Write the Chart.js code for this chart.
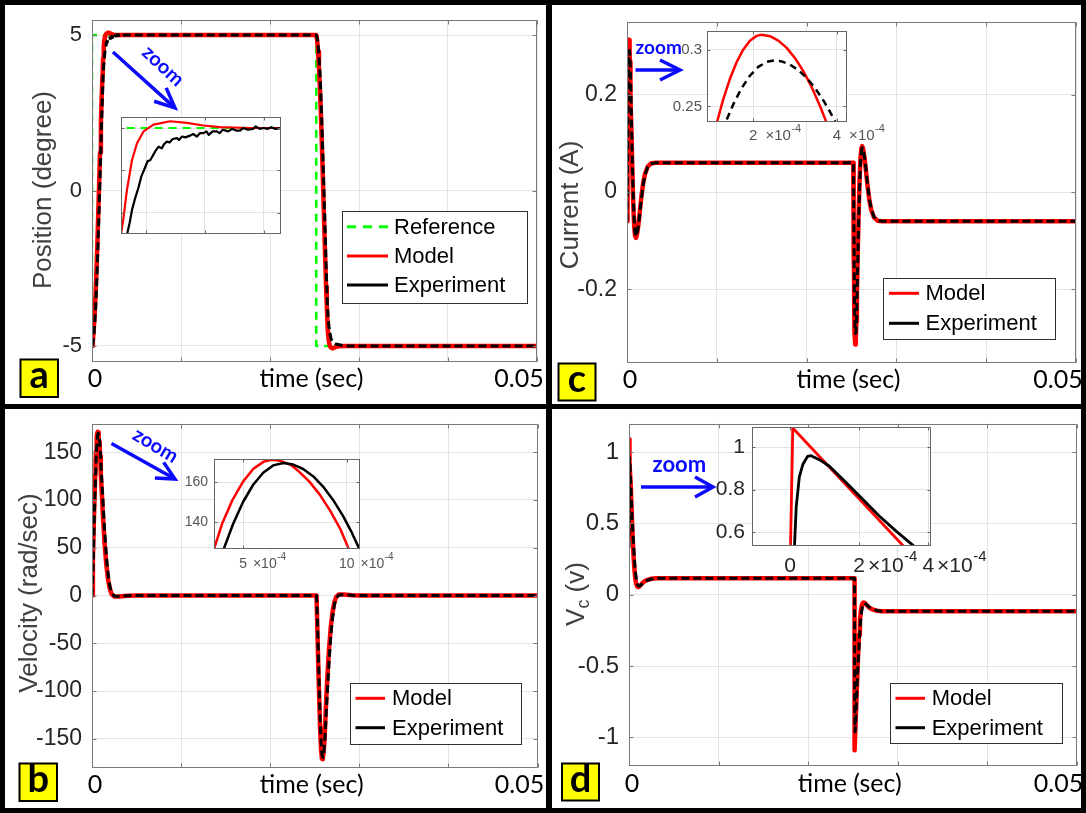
<!DOCTYPE html>
<html>
<head>
<meta charset="utf-8">
<title>Step response: model vs experiment</title>
<script src="https://cdn.jsdelivr.net/npm/chart.js@4.4.1/dist/chart.umd.min.js"></script>
<style>
  body { margin: 0; background: #fff; }
  #figure { position: relative; width: 1086px; height: 813px; background: #fff; overflow: hidden; }
  #figure canvas { position: absolute; left: 0; top: 0; }
  .rule { position: absolute; background: #000; }
</style>
</head>
<body>
<div id="figure">
  <canvas id="posChart" width="1086" height="813"></canvas>
  <canvas id="curChart" width="1086" height="813"></canvas>
  <canvas id="velChart" width="1086" height="813"></canvas>
  <canvas id="vcChart" width="1086" height="813"></canvas>
  <canvas id="posZoom" width="1086" height="813"></canvas>
  <canvas id="curZoom" width="1086" height="813"></canvas>
  <canvas id="velZoom" width="1086" height="813"></canvas>
  <canvas id="vcZoom" width="1086" height="813"></canvas>
  <div class="rule" style="left:0;top:0;width:1086px;height:5px"></div>
  <div class="rule" style="left:0;top:808px;width:1086px;height:5px"></div>
  <div class="rule" style="left:0;top:0;width:5px;height:813px"></div>
  <div class="rule" style="left:1081px;top:0;width:5px;height:813px"></div>
  <div class="rule" style="left:546px;top:0;width:6px;height:813px"></div>
  <div class="rule" style="left:0;top:404px;width:1086px;height:5px"></div>
</div>

<script>
// ---- data : times in ms ----

const timeGrid = [0, 0.01, 0.02, 0.03, 0.04, 0.05];   // s
const timeLabels = [0, 0.05];                          // s

// (a) position, degree
const refTime = [0, 0, 25.2, 25.2, 50];
const refPos = [-5, 5, 5, -5, -5];
const posModelTime = [0, 0.1, 0.2, 0.3, 0.4, 0.5, 0.6, 0.7, 0.8, 0.9,
  1.0, 1.1, 1.18, 1.213, 1.256, 1.32, 1.384, 1.468, 1.595, 1.808,
  2.022, 2.232, 2.445, 2.829, 3.223, 4, 25.2, 25.3, 25.4, 25.5,
  25.6, 25.7, 25.8, 25.9, 26.0, 26.1, 26.2, 26.3, 26.38, 26.46,
  26.52, 26.6, 26.7, 26.8, 27.0, 27.2, 27.4, 27.8, 28.4, 29.5, 50];
const posModel = [-5, -4.82, -4.45, -3.95, -3.35, -2.6, -1.72, -0.76, 0.23, 1.22,
  2.2, 3.12, 3.74, 3.95, 4.27, 4.62, 4.82, 4.96, 5.04, 5.08,
  5.06, 5.03, 5.01, 5.0, 5.0, 5.0, 5.0, 4.83, 4.47, 3.97,
  3.36, 2.62, 1.74, 0.78, -0.21, -1.2, -2.18, -3.1, -3.72, -4.3,
  -4.6, -4.83, -4.97, -5.04, -5.08, -5.06, -5.03, -5.01, -5.0, -5.0, -5.0];
const posExpTime = [0, 0.1, 0.2, 0.3, 0.4, 0.5, 0.6, 0.7, 0.8, 0.9,
  1.0, 1.1, 1.2, 1.256, 1.29, 1.32, 1.36, 1.404, 1.44, 1.49,
  1.52, 1.553, 1.59, 1.62, 1.66, 1.70, 1.73, 1.766, 1.80, 1.84,
  1.894, 1.92, 1.96, 2.0, 2.063, 2.1, 2.15, 2.19, 2.232, 2.27,
  2.3, 2.35, 2.404, 2.44, 2.48, 2.55, 2.6, 2.65, 2.70, 2.74,
  2.8, 2.87, 2.9, 2.95, 3.0, 3.05, 3.1, 3.15, 3.223, 3.6,
  4.5, 25.2, 25.3, 25.4, 25.5, 25.6, 25.7, 25.8, 25.9, 26.0,
  26.1, 26.2, 26.3, 26.4, 26.46, 26.52, 26.6, 26.7, 26.86, 27.1,
  27.4, 27.9, 28.4, 50];
const posExp = [-5, -4.92, -4.7, -4.33, -3.82, -3.16, -2.38, -1.5, -0.56, 0.4,
  1.38, 2.42, 3.28, 3.74, 3.88, 4.03, 4.17, 4.30, 4.43, 4.54,
  4.61, 4.62, 4.68, 4.73, 4.78, 4.76, 4.81, 4.84, 4.83, 4.87,
  4.88, 4.86, 4.90, 4.89, 4.91, 4.93, 4.90, 4.94, 4.94, 4.96,
  4.92, 4.96, 4.96, 4.94, 4.98, 4.96, 4.99, 4.97, 4.97, 5.0,
  4.98, 4.99, 5.02, 4.99, 5.0, 4.99, 5.01, 4.99, 5.0, 5.0,
  5.0, 5.0, 4.92, 4.7, 4.33, 3.82, 3.16, 2.38, 1.5, 0.56,
  -0.4, -1.38, -2.42, -3.28, -3.74, -4.03, -4.3, -4.54, -4.78, -4.88,
  -4.94, -4.97, -5.0, -5.0];
const posTicks = [-5, 0, 5];
const posZoomTime = [1.18, 3.223];      // ms
const posZoomGrid = [1.5, 2.25, 3.0];   // ms
const posZoomRange = [3.75, 5.13];
const posZoomTicks = [4, 4.5, 5];

// (b) velocity, rad/sec
const velModelTime = [0, 0.1, 0.2, 0.3, 0.36, 0.40, 0.45, 0.5, 0.55, 0.6,
  0.637, 0.68, 0.73, 0.77, 0.82, 0.87, 0.92, 0.97, 1.01, 1.1,
  1.2, 1.4, 1.6, 1.8, 2.0, 2.2, 2.5, 3.0, 4.0, 5.0,
  25.2, 25.3, 25.4, 25.5, 25.6, 25.7, 25.8, 25.84, 25.9, 26.0,
  26.1, 26.2, 26.3, 26.4, 26.6, 26.8, 27.0, 27.2, 27.4, 27.7,
  28.2, 29.2, 30.2, 50];
const velModel = [0, 38, 75, 108, 126.7, 139.6, 151.4, 160.4, 166.8, 170.4,
  171.35, 170.8, 168.8, 165.4, 160.4, 153.9, 145.9, 136.5, 126.7, 108,
  88, 56, 33, 17, 7, 1.5, -1.0, -1.0, -0.3, 0,
  0, -38, -75, -108, -139, -160, -170.4, -171.3, -170.2, -163.5,
  -150, -128, -106, -88, -56, -33, -17, -7, -1.5, 1.0,
  1.0, 0.3, 0, 0];
const velExpTime = [0, 0.1, 0.2, 0.3, 0.407, 0.452, 0.5, 0.548, 0.597, 0.645,
  0.694, 0.742, 0.79, 0.839, 0.887, 0.935, 0.984, 1.024, 1.061, 1.2,
  1.4, 1.6, 1.8, 2.0, 2.2, 2.5, 3.0, 4.0, 5.0, 25.2,
  25.3, 25.4, 25.5, 25.6, 25.7, 25.8, 25.9, 26.0, 26.1, 26.2,
  26.3, 26.4, 26.6, 26.8, 27.0, 27.2, 27.4, 27.7, 28.2, 29.2,
  30.2, 50];
const velExp = [0, 25, 60, 95, 126.7, 139.2, 150.2, 158.7, 164.8, 168.5,
  169.7, 168.9, 166.7, 163.0, 157.8, 151.1, 142.9, 135.0, 126.7, 104,
  70, 43, 23, 10, 3, -0.5, -0.8, -0.2, 0, 0,
  -25, -60, -95, -128, -152, -166, -169.5, -165, -156, -140,
  -120, -104, -70, -43, -23, -10, -3, 0.5, 0.8, 0.2,
  0, 0];
const velTicks = [-150, -100, -50, 0, 50, 100, 150];
const velZoomTime = [0.36, 1.064];      // ms
const velZoomRange = [126.7, 171.7];
const velZoomTimeTicks = [5, 10];       // x1e-4 s
const velZoomTicks = [140, 160];

// (c) current, A
const curModelTime = [0, 0.02, 0.04, 0.06, 0.08, 0.1, 0.1136, 0.128, 0.144, 0.16,
  0.176, 0.192, 0.208, 0.22, 0.24, 0.26, 0.28, 0.3, 0.32, 0.34,
  0.36, 0.3745, 0.42, 0.5, 0.6, 0.7, 0.8, 0.9, 1.0, 1.1,
  1.25, 1.4, 1.6, 1.8, 2.0, 2.3, 2.7, 3.2,
  25.2, 25.22, 25.24, 25.26, 25.28, 25.3, 25.32, 25.36, 25.42, 25.48,
  25.54, 25.6, 25.7, 25.8, 25.9, 26.0, 26.1, 26.2, 26.3, 26.45,
  26.6, 26.8, 27.0, 27.2, 27.5, 27.9, 28.4, 50];
const curModel = [-0.06, 0.0, 0.06, 0.12, 0.17, 0.212, 0.2362, 0.2557, 0.2739, 0.2887,
  0.3, 0.3079, 0.3122, 0.3132, 0.3119, 0.308, 0.3016, 0.2925, 0.2809, 0.2667,
  0.2499, 0.2362, 0.19, 0.12, 0.04, -0.025, -0.07, -0.09, -0.094, -0.088,
  -0.07, -0.045, -0.01, 0.018, 0.037, 0.052, 0.059, 0.06,
  0.06, 0.0, -0.06, -0.12, -0.17, -0.212, -0.245, -0.289, -0.313, -0.302,
  -0.267, -0.21, -0.12, -0.04, 0.025, 0.07, 0.09, 0.094, 0.088, 0.07,
  0.045, 0.01, -0.018, -0.037, -0.052, -0.059, -0.06, -0.06];
const curExpTime = [0, 0.03, 0.06, 0.09, 0.12, 0.1344, 0.152, 0.172, 0.192, 0.212,
  0.232, 0.25, 0.268, 0.288, 0.308, 0.328, 0.348, 0.368, 0.384, 0.396,
  0.44, 0.5, 0.6, 0.7, 0.8, 0.9, 1.0, 1.1, 1.25, 1.4,
  1.6, 1.8, 2.0, 2.3, 2.7, 3.2,
  25.2, 25.23, 25.26, 25.29, 25.32, 25.36, 25.4, 25.45, 25.5, 25.56,
  25.64, 25.7, 25.8, 25.9, 26.0, 26.1, 26.2, 26.3, 26.45, 26.6,
  26.8, 27.0, 27.2, 27.5, 27.9, 28.4, 50];
const curExp = [-0.06, -0.01, 0.05, 0.12, 0.2, 0.2362, 0.2515, 0.2659, 0.277, 0.2848,
  0.2893, 0.2906, 0.2897, 0.2868, 0.2819, 0.275, 0.266, 0.255, 0.2448, 0.2362,
  0.2, 0.14, 0.06, -0.01, -0.058, -0.083, -0.091, -0.088, -0.072, -0.048,
  -0.014, 0.015, 0.035, 0.051, 0.058, 0.06,
  0.06, 0.01, -0.05, -0.12, -0.2, -0.25, -0.277, -0.2906, -0.287, -0.27,
  -0.2, -0.14, -0.06, 0.01, 0.058, 0.083, 0.091, 0.088, 0.072, 0.048,
  0.014, -0.015, -0.035, -0.051, -0.058, -0.06, -0.06];
const curTicks = [-0.2, 0, 0.2];
const curZoomTime = [0.0896, 0.424];    // ms
const curZoomRange = [0.2362, 0.3165];
const curZoomTimeTicks = [2, 4];        // x1e-4 s
const curZoomTicks = [0.25, 0.3];

// (d) capacitor voltage, V
const vcModelTime = [0, 0.008, 0.1, 0.2, 0.328, 0.4, 0.5, 0.6, 0.7, 0.8,
  0.9, 1.0, 1.1, 1.3, 1.6, 2.0, 2.5, 3.0,
  25.2, 25.2, 25.208, 25.3, 25.4, 25.528, 25.6, 25.7, 25.8, 25.9,
  26.0, 26.1, 26.2, 26.3, 26.5, 26.8, 27.2, 27.7, 28.2, 50];
const vcModel = [0.4, 1.09, 0.93, 0.756, 0.534, 0.42, 0.28, 0.18, 0.115, 0.078,
  0.06, 0.054, 0.055, 0.068, 0.088, 0.103, 0.112, 0.115,
  0.115, -0.4, -1.09, -0.93, -0.756, -0.534, -0.42, -0.28, -0.18, -0.115,
  -0.078, -0.06, -0.054, -0.055, -0.068, -0.088, -0.103, -0.112, -0.115, -0.115];
const vcExpTime = [0, 0.013, 0.018, 0.027, 0.037, 0.051, 0.061, 0.085, 0.114, 0.163,
  0.211, 0.259, 0.307, 0.356, 0.4, 0.5, 0.6, 0.7, 0.8, 0.9,
  1.0, 1.1, 1.3, 1.6, 2.0, 2.5, 3.0,
  25.2, 25.2, 25.213, 25.218, 25.227, 25.237, 25.251, 25.261, 25.285, 25.314,
  25.363, 25.411, 25.459, 25.507, 25.556, 25.6, 25.7, 25.8, 25.9, 26.0,
  26.1, 26.2, 26.3, 26.5, 26.8, 27.2, 27.7, 28.2, 50];
const vcExp = [0.33, 0.534, 0.72, 0.86, 0.918, 0.957, 0.96, 0.941, 0.91, 0.832,
  0.753, 0.674, 0.604, 0.537, 0.48, 0.36, 0.25, 0.17, 0.115, 0.08,
  0.065, 0.06, 0.066, 0.085, 0.1, 0.11, 0.115,
  0.115, -0.33, -0.534, -0.72, -0.86, -0.918, -0.957, -0.96, -0.941, -0.91,
  -0.832, -0.753, -0.674, -0.604, -0.537, -0.48, -0.36, -0.25, -0.17, -0.115,
  -0.08, -0.065, -0.06, -0.066, -0.085, -0.1, -0.11, -0.115, -0.115];
const vcTicks = [-1, -0.5, 0, 0.5, 1];
const vcZoomTime = [-0.11, 0.408];      // ms
const vcZoomRange = [0.534, 1.095];
const vcZoomTimeTicks = [0, 2, 4];      // x1e-4 s
const vcZoomTicks = [0.6, 0.8, 1];

// ---- styles ----
const W = 1086, H = 813;
const BLUE = '#0a0aff';
const AXIS_FONT = '"Liberation Sans", Arial, sans-serif';
const NOTE_FONT = 'Lato, "Liberation Sans", sans-serif';

const pts = (ts, vs) => ts.map((t, i) => ({ x: t / 1000, y: vs[i] }));
const ms = v => v / 1000;

function reference(w) { return { label: 'Reference', data: pts(refTime, refPos), color: '#00ff00', width: w, dash: [8, 6], legendDash: [9, 7] }; }
function model(ts, vs, w) { return { label: 'Model', data: pts(ts, vs), color: '#ff0000', width: w }; }
function experiment(ts, vs, w, dash) { return { label: 'Experiment', data: pts(ts, vs), color: '#000000', width: w, dash: dash }; }

// ---- drawing helpers ----
function drawBox(chart, color, len) {
  const { ctx, chartArea: a, scales: { x, y } } = chart;
  const l = Math.round(a.left) + 0.5, r = Math.round(a.right) - 0.5;
  const t = Math.round(a.top) + 0.5, b = Math.round(a.bottom) - 0.5;
  ctx.save();
  ctx.strokeStyle = color;
  ctx.lineWidth = 1;
  ctx.strokeRect(l, t, r - l, b - t);
  ctx.beginPath();
  x.ticks.forEach(tk => {
    const px = Math.round(x.getPixelForValue(tk.value)) + 0.5;
    ctx.moveTo(px, b); ctx.lineTo(px, b - len);
    ctx.moveTo(px, t); ctx.lineTo(px, t + len);
  });
  y.ticks.forEach(tk => {
    const py = Math.round(y.getPixelForValue(tk.value)) + 0.5;
    ctx.moveTo(l, py); ctx.lineTo(l + len, py);
    ctx.moveTo(r, py); ctx.lineTo(r - len, py);
  });
  ctx.stroke();
  ctx.restore();
}

function drawTimeAxis(chart) {
  const { ctx, chartArea: a, scales: { x } } = chart;
  const y = a.bottom + 17.5;
  ctx.save();
  ctx.font = '25px ' + NOTE_FONT;
  ctx.fillStyle = '#000';
  ctx.textAlign = 'center';
  ctx.textBaseline = 'middle';
  ctx.fillText(String(timeLabels[0]), x.getPixelForValue(timeLabels[0]) + 3, y);
  ctx.fillText(String(timeLabels[1]), x.getPixelForValue(timeLabels[1]) - 18, y);
  ctx.fillText('time (sec)', (a.left + a.right) / 2 - 3, y);
  ctx.restore();
}

function drawPowerLabels(chart, f) {
  const { ctx, chartArea: a, scales: { x } } = chart;
  const y = a.bottom + f.dy;
  ctx.save();
  ctx.fillStyle = f.color;
  ctx.textBaseline = 'middle';
  f.ticks.forEach(v => {
    const px = x.getPixelForValue(v * 1e-4);
    const num = String(v);
    ctx.font = f.size + 'px ' + AXIS_FONT;
    ctx.textAlign = 'center';
    ctx.fillText(num, px, y);
    if (v === 0) return;
    let cx = px + ctx.measureText(num).width / 2 + f.gap;
    ctx.textAlign = 'left';
    ctx.fillText('\u00d710', cx, y);
    cx += ctx.measureText('\u00d710').width + 0.5;
    ctx.font = Math.round(f.size * 0.7) + 'px ' + AXIS_FONT;
    ctx.fillText('-4', cx, y - f.rise);
  });
  ctx.restore();
}

function drawYTitle(ctx, t) {
  ctx.save();
  ctx.translate(t.x, t.y);
  ctx.rotate(-Math.PI / 2);
  ctx.fillStyle = '#404040';
  ctx.textBaseline = 'middle';
  const big = '26px ' + AXIS_FONT, small = '18px ' + AXIS_FONT;
  if (!t.sub) {
    ctx.font = big;
    ctx.textAlign = 'center';
    ctx.fillText(t.text, 0, 0);
  } else {
    ctx.font = big;
    const w1 = ctx.measureText(t.text).width, w3 = ctx.measureText(t.rest).width;
    ctx.font = small;
    const w2 = ctx.measureText(t.sub).width;
    let cx = -(w1 + w2 + w3) / 2;
    ctx.textAlign = 'left';
    ctx.font = big; ctx.fillText(t.text, cx, 0); cx += w1;
    ctx.font = small; ctx.fillText(t.sub, cx, 7); cx += w2;
    ctx.font = big; ctx.fillText(t.rest, cx, 0);
  }
  ctx.restore();
}

function drawLegend(chart, L) {
  const ctx = chart.ctx;
  const [x1, y1, x2, y2] = L.box;
  ctx.save();
  ctx.fillStyle = '#fff';
  ctx.fillRect(x1, y1, x2 - x1, y2 - y1);
  ctx.strokeStyle = '#303030';
  ctx.lineWidth = 1;
  ctx.strokeRect(Math.round(x1) + 0.5, Math.round(y1) + 0.5, Math.round(x2 - x1), Math.round(y2 - y1));
  ctx.font = '22px ' + AXIS_FONT;
  ctx.textAlign = 'left';
  ctx.textBaseline = 'middle';
  chart.data.datasets.forEach((ds, i) => {
    const y = L.rows[i];
    ctx.strokeStyle = ds.borderColor;
    ctx.lineWidth = 3;
    ctx.setLineDash(ds.legendDash);
    ctx.beginPath();
    ctx.moveTo(L.line[0], y);
    ctx.lineTo(L.line[1], y);
    ctx.stroke();
    ctx.setLineDash([]);
    ctx.fillStyle = '#000';
    ctx.fillText(ds.label, L.textX, y + 1);
  });
  ctx.restore();
}

function drawTag(ctx, g) {
  ctx.save();
  ctx.fillStyle = '#ffff00';
  ctx.fillRect(g.x, g.y, g.s, g.s);
  ctx.strokeStyle = '#000';
  ctx.lineWidth = 2;
  ctx.strokeRect(g.x, g.y, g.s, g.s);
  ctx.fillStyle = '#000';
  ctx.font = 'bold 38px ' + NOTE_FONT;
  ctx.textAlign = 'center';
  ctx.textBaseline = 'alphabetic';
  ctx.fillText(g.text, g.x + g.s / 2, g.y + g.s / 2 + 10);
  ctx.restore();
}

function drawNote(ctx, n) {
  const [x1, y1, x2, y2] = n.arrow;
  const ang = Math.atan2(y2 - y1, x2 - x1), c = Math.cos(ang), s = Math.sin(ang);
  ctx.save();
  ctx.strokeStyle = BLUE;
  ctx.fillStyle = BLUE;
  ctx.lineWidth = 3.5;
  ctx.beginPath();
  ctx.moveTo(x1, y1);
  ctx.lineTo(x2 - 2 * c, y2 - 2 * s);
  ctx.stroke();
  const bx = x2 - n.head * c, by = y2 - n.head * s;
  ctx.beginPath();
  ctx.moveTo(bx + n.half * s, by - n.half * c);
  ctx.lineTo(x2, y2);
  ctx.lineTo(bx - n.half * s, by + n.half * c);
  ctx.stroke();
  ctx.translate(n.x, n.y);
  ctx.rotate(n.angle * Math.PI / 180);
  ctx.font = 'bold ' + n.size + 'px ' + NOTE_FONT;
  ctx.textAlign = n.align || 'center';
  ctx.textBaseline = 'middle';
  ctx.fillText('zoom', 0, 0);
  ctx.restore();
}

function decor(p) {
  return {
    id: 'decor',
    beforeDraw(chart) {
      if (!p.inset) return;
      const { ctx, chartArea: a } = chart;
      ctx.save();
      ctx.fillStyle = '#fff';
      ctx.fillRect(a.left, a.top, a.right - a.left, a.bottom - a.top);
      ctx.restore();
    },
    afterDatasetsDraw(chart) {
      drawBox(chart, p.boxColor, p.tickLen);
    },
    afterDraw(chart) {
      const ctx = chart.ctx;
      if (p.powerLabels) drawPowerLabels(chart, p.powerLabels);
      if (p.timeAxis) drawTimeAxis(chart);
      if (p.yTitle) drawYTitle(ctx, p.yTitle);
      if (p.legend) drawLegend(chart, p.legend);
      if (p.tag) drawTag(ctx, p.tag);
      if (p.note) drawNote(ctx, p.note);
    }
  };
}

function plot(id, p) {
  const a = p.area;
  const n = p.lines.length;
  // the y scale keeps a fixed strip left of the plot so its labels have room
  const yw = Math.min(a.l - 1, 80);
  const datasets = p.lines.map((l, i) => ({
    label: l.label,
    data: l.data,
    borderColor: l.color,
    borderWidth: l.width,
    borderDash: l.dash || [],
    legendDash: l.legendDash || [],
    borderJoinStyle: 'round',
    order: n - i,
    pointRadius: 0,
    tension: 0,
    fill: false
  }));
  return new Chart(document.getElementById(id), {
    type: 'line',
    data: { datasets },
    options: {
      responsive: false,
      animation: false,
      devicePixelRatio: 1,
      events: [],
      layout: { padding: { left: a.l - yw, top: a.t, right: W - a.r, bottom: H - a.b } },
      plugins: { legend: { display: false }, tooltip: { enabled: false } },
      scales: {
        x: {
          type: 'linear',
          min: p.x[0], max: p.x[1],
          afterBuildTicks: s => { s.ticks = p.xGrid.map(v => ({ value: v })); },
          afterFit: s => { s.height = 0; s.paddingLeft = 0; s.paddingRight = 0; },
          ticks: { display: false },
          grid: { color: p.gridColor, drawTicks: false },
          border: { display: false }
        },
        y: {
          type: 'linear',
          min: p.y[0], max: p.y[1],
          afterBuildTicks: s => { s.ticks = p.yGrid.map(v => ({ value: v })); },
          afterFit: s => { s.width = yw; s.paddingTop = 0; s.paddingBottom = 0; },
          ticks: {
            display: !!p.yFont,
            callback: v => String(v),
            font: p.yFont ? { family: AXIS_FONT, size: p.yFont.size } : undefined,
            color: p.yFont ? p.yFont.color : '#000',
            padding: p.yFont ? p.yFont.pad : 0
          },
          grid: { color: p.gridColor, drawTicks: false },
          border: { display: false }
        }
      }
    },
    plugins: [decor(p)]
  });
}

const mainFont = { size: 23, color: '#262626', pad: 10 };
const mainCommon = { x: [0, 0.05], xGrid: timeGrid, gridColor: '#e4e4e4', boxColor: '#7a7a7a', tickLen: 4, yFont: mainFont, timeAxis: true };
const zoomCommon = { inset: true, gridColor: '#e2e2e2', boxColor: '#666', tickLen: 3 };
const DASH = [8, 4];

// ---- (a) position ----
plot('posChart', Object.assign({}, mainCommon, {
  area: { l: 92, t: 19.5, r: 537, b: 361.5 },
  y: [-5.5, 5.5], yGrid: posTicks,
  yFont: { size: 22, color: '#262626', pad: 10 },
  lines: [reference(2.5), model(posModelTime, posModel, 4.5), experiment(posExpTime, posExp, 3, DASH)],
  yTitle: { text: 'Position (degree)', x: 44, y: 190 },
  legend: { box: [342, 211, 527, 303], rows: [226.7, 256, 285], line: [347, 388], textX: 394 },
  tag: { x: 20.5, y: 359.5, s: 37.5, text: 'a' },
  note: { arrow: [113, 52, 175, 108], head: 20, half: 9, x: 163, y: 66, angle: 43, size: 20 }
}));

// ---- (c) current ----
plot('curChart', Object.assign({}, mainCommon, {
  area: { l: 627, t: 21.5, r: 1076, b: 362.5 },
  y: [-0.35, 0.35], yGrid: curTicks,
  lines: [model(curModelTime, curModel, 4.5), experiment(curExpTime, curExp, 3, DASH)],
  yTitle: { text: 'Current (A)', x: 570.5, y: 205 },
  legend: { box: [883, 278, 1055, 339], rows: [293.3, 323.3], line: [889, 919], textX: 925.5 },
  tag: { x: 558.5, y: 363.5, s: 37, text: 'c' },
  note: { arrow: [635.5, 70, 680, 70], head: 20, half: 10, x: 635.5, y: 48, angle: 0, size: 19, align: 'left' }
}));

// ---- (b) velocity ----
plot('velChart', Object.assign({}, mainCommon, {
  area: { l: 92, t: 423.5, r: 537.5, b: 767.5 },
  y: [-180, 180], yGrid: velTicks,
  lines: [model(velModelTime, velModel, 4.5), experiment(velExpTime, velExp, 3, DASH)],
  yTitle: { text: 'Velocity (rad/sec)', x: 30, y: 593 },
  legend: { box: [350, 683, 521, 744], rows: [698.3, 727.7], line: [355.5, 385], textX: 392 },
  tag: { x: 19.5, y: 763.5, s: 37.5, text: 'b' },
  note: { arrow: [111.5, 443.5, 175, 479], head: 18, half: 9, x: 155.5, y: 445.5, angle: 31, size: 20 }
}));

// ---- (d) capacitor voltage ----
plot('vcChart', Object.assign({}, mainCommon, {
  area: { l: 629, t: 423.5, r: 1076.5, b: 766 },
  y: [-1.2, 1.2], yGrid: vcTicks,
  yFont: { size: 24, color: '#262626', pad: 10 },
  lines: [model(vcModelTime, vcModel, 4.5), experiment(vcExpTime, vcExp, 3, DASH)],
  yTitle: { text: 'V', sub: 'c', rest: ' (v)', x: 577, y: 594 },
  legend: { box: [889.5, 683, 1061, 743.3], rows: [698.3, 727.7], line: [895.5, 925], textX: 931.7 },
  tag: { x: 562, y: 763.5, s: 37, text: 'd' },
  note: { arrow: [641, 487, 713, 487], head: 18, half: 10, x: 679.3, y: 465, angle: 0, size: 22 }
}));

// ---- zoomed views ----
plot('posZoom', Object.assign({}, zoomCommon, {
  area: { l: 121, t: 117, r: 281, b: 234 },
  x: posZoomTime.map(ms), xGrid: posZoomGrid.map(ms),
  y: posZoomRange, yGrid: posZoomTicks,
  lines: [reference(2), model(posModelTime, posModel, 2.2), experiment(posExpTime, posExp, 2.2)]
}));

plot('curZoom', Object.assign({}, zoomCommon, {
  area: { l: 707, t: 31, r: 847, b: 122 },
  x: curZoomTime.map(ms), xGrid: curZoomTimeTicks.map(v => v * 1e-4),
  y: curZoomRange, yGrid: curZoomTicks,
  yFont: { size: 15, color: '#555', pad: 5 },
  powerLabels: { ticks: curZoomTimeTicks, size: 15, color: '#555', dy: 13.5, gap: 8, rise: 7 },
  lines: [model(curModelTime, curModel, 2.5), experiment(curExpTime, curExp, 2.5, [7, 5])]
}));

plot('velZoom', Object.assign({}, zoomCommon, {
  area: { l: 214, t: 459, r: 360, b: 549 },
  x: velZoomTime.map(ms), xGrid: velZoomTimeTicks.map(v => v * 1e-4),
  y: velZoomRange, yGrid: velZoomTicks,
  yFont: { size: 14, color: '#555', pad: 6 },
  powerLabels: { ticks: velZoomTimeTicks, size: 14, color: '#555', dy: 15.5, gap: 6, rise: 7 },
  lines: [model(velModelTime, velModel, 2.5), experiment(velExpTime, velExp, 2.5)]
}));

plot('vcZoom', Object.assign({}, zoomCommon, {
  area: { l: 752, t: 427, r: 931, b: 546 },
  x: vcZoomTime.map(ms), xGrid: vcZoomTimeTicks.map(v => v * 1e-4),
  y: vcZoomRange, yGrid: vcZoomTicks,
  yFont: { size: 21, color: '#262626', pad: 7 },
  powerLabels: { ticks: vcZoomTimeTicks, size: 21, color: '#262626', dy: 20, gap: 3, rise: 9 },
  lines: [model(vcModelTime, vcModel, 2.8), experiment(vcExpTime, vcExp, 2.8)]
}));
</script>
</body>
</html>
